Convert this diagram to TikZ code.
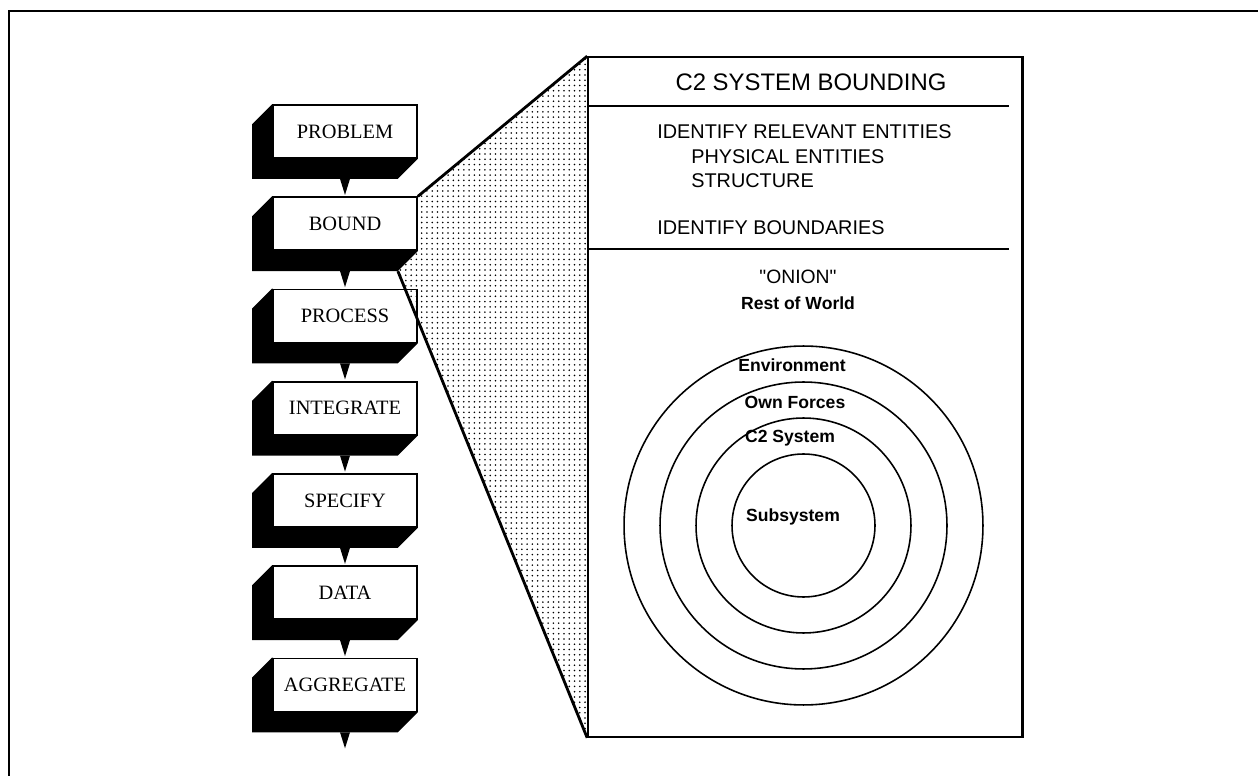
\documentclass[tikz,border=0pt]{standalone}
\usepackage{fontspec}
\setmainfont{Liberation Serif}
\setsansfont{Liberation Sans}
\newfontfamily\onionfont{Liberation Sans}
\usetikzlibrary{positioning,calc,patterns,backgrounds}

\tikzset{
	stepbox/.style={draw, fill=white, line width=1pt, minimum width=2.88cm, minimum height=1.06cm, inner sep=0pt, font=\fontsize{11.6}{13}\selectfont},
	ring/.style={draw, circle, line width=0.9pt, inner sep=0pt},
	ringlabel/.style={font=\sffamily\bfseries\fontsize{10}{12}\selectfont},
	paneltext/.style={anchor=west, inner sep=0pt, font=\sffamily\fontsize{11.3}{13}\selectfont},
}

\begin{document}
\begin{tikzpicture}[x=0.02cm, y=-0.02cm]
		\useasboundingbox (0,0) rectangle (1258,776);
		\draw[line width=1.2pt] (9,776) |- (1258,11);

		% the steps
		\node[stepbox] (problem) at (345,131.5) {PROBLEM};
		\node[stepbox, below=0.75cm of problem] (bound) {BOUND};
		\node[stepbox, below=0.75cm of bound] (process) {PROCESS};
		\node[stepbox, below=0.75cm of process] (integrate) {INTEGRATE};
		\node[stepbox, below=0.75cm of integrate] (specify) {SPECIFY};
		\node[stepbox, below=0.75cm of specify] (data) {DATA};
		\node[stepbox, below=0.75cm of data] (aggregate) {AGGREGATE};

		\begin{scope}[on background layer]
			\foreach \s in {problem,bound,process,integrate,specify,data,aggregate} {
				\fill (\s.north west) -- ++(-20,20) |- ($(\s.south east)+(-20,20)$) -- (\s.south east) -- cycle;
				\fill ($(\s.south)+(-5,20)$) -- ++(10,0) -- ++(-5,16) -- cycle;
			}
		\end{scope}

		% the blown-up panel
		\node[draw, line width=1pt, minimum width=8.68cm, minimum height=13.6cm, inner sep=0pt] (panel) at (805,397) {};
		\draw[line width=1.8pt] (panel.north east) -- (panel.south east);
		\draw[line width=1.1pt] ($(panel.north west)+(0,50)$) -- ++(422,0);
		\draw[line width=1.1pt] ($(panel.north west)+(0,193)$) -- ++(422,0);

		\fill[pattern=dots] (bound.north east) -- (panel.north west) -- (panel.south west)
			-- ($(bound.south east)+(-20,20)$) -- (bound.south east) -- cycle;
		\draw[line width=1.6pt] (bound.north east) -- (panel.north west);
		\draw[line width=1.6pt] ($(bound.south east)+(-20,20)$) -- (panel.south west);

		\node[font=\sffamily\fontsize{13.6}{16}\selectfont] (title) at (811,82) {C2 SYSTEM BOUNDING};
		\node[paneltext] (relevant) at (657,132) {IDENTIFY RELEVANT ENTITIES};
		\node[paneltext] (physical) at (691,157) {PHYSICAL ENTITIES};
		\node[paneltext] (structure) at (691,181) {STRUCTURE};
		\node[paneltext] (boundaries) at (657,228) {IDENTIFY BOUNDARIES};

		% the onion
		\node[font=\onionfont\fontsize{11}{13}\selectfont] (onionlabel) at (798,277) {"ONION"};
		\node[ringlabel] (world) at (798,303) {Rest of World};

		\coordinate (onion) at (803.5,525.5);
		\node[ring, minimum size=7.18cm] (environment) at (onion) {};
		\node[ring, minimum size=5.74cm] (ownforces) at (onion) {};
		\node[ring, minimum size=4.30cm] (c2system) at (onion) {};
		\node[ring, minimum size=2.86cm] (subsystem) at (onion) {};

		\node[ringlabel] at (792,365) {Environment};
		\node[ringlabel] at (795,402) {Own Forces};
		\node[ringlabel] at (790,438) {C2 System};
		\node[ringlabel] at (793,517) {Subsystem};
	\end{tikzpicture}
\end{document}
